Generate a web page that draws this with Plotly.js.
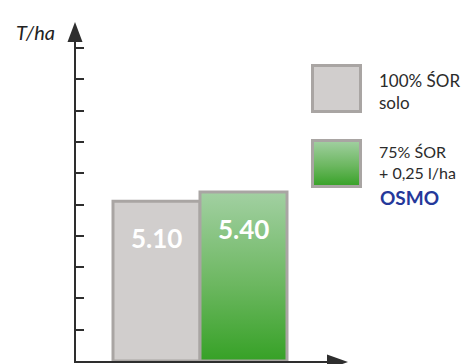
<!DOCTYPE html>
<html>
<head>
<meta charset="utf-8">
<script src="https://cdn.plot.ly/plotly-3.0.1.min.js"></script>
<style>
  html, body { margin: 0; padding: 0; background: #fff; }
  #chart { width: 469px; height: 364px; }
</style>
</head>
<body>
<div id="chart"></div>
<script>
// Yield per hectare for the two treatment variants
const categories = ['100% ŚOR solo', '75% ŚOR + 0,25 l/ha OSMO'];
const yields = [5.10, 5.40];
const yTicks = [1, 2, 3, 4, 5, 6, 7, 8, 9, 10];
const legendLabels = ['100% ŚOR<br>solo', '75% ŚOR<br>+ 0,25 l/ha'];
const productName = 'OSMO';
const unitLabel = 'T/ha';

// Canvas and plot-area geometry (pixels)
const W = 469, H = 364;
const M = { l: 76, r: 138, t: 40, b: 3 };
const plotW = W - M.l - M.r;
const plotH = H - M.t - M.b;
const px = x => (x - M.l) / plotW;          // pixel x -> paper x
const py = y => (H - M.b - y) / plotH;      // pixel y -> paper y

const FONT = 'Lato, "Open Sans", sans-serif';
const GREY_FILL = '#d1cecd';
const BORDER = '#a9a5a3';
const GREEN_MID = '#5fb252';
const AXIS = '#2e2e2e';

const barTrace = {
  type: 'bar',
  x: categories.map((_, i) => i),
  y: yields,
  width: 1,
  hovertext: categories,
  marker: {
    color: [GREY_FILL, GREEN_MID],
    line: { color: BORDER, width: 3 }
  },
  showlegend: false
};

// Value labels inside the top of each bar
const valueNotes = yields.map((v, i) => ({
  x: i, y: v, xref: 'x', yref: 'y',
  yanchor: 'middle', yshift: -37,
  text: '<b>' + v.toFixed(2) + '</b>',
  showarrow: false,
  font: { family: FONT, size: 26, color: '#ffffff' }
}));

// Legend text blocks beside the swatches
const legendCenters = [91.5, 161.5];
const legendSizes = [17, 16];
const legendNotes = legendLabels.map((t, k) => ({
  xref: 'paper', yref: 'paper',
  x: px(377), y: py(legendCenters[k]),
  xanchor: 'left', yanchor: 'middle', align: 'left',
  text: t,
  showarrow: false,
  font: { family: FONT, size: legendSizes[k], color: '#2b2b2b' }
}));
legendNotes.push({
  xref: 'paper', yref: 'paper',
  x: px(378), y: py(197.5),
  xanchor: 'left', yanchor: 'middle',
  text: '<b>' + productName + '</b>',
  showarrow: false,
  font: { family: FONT, size: 19, color: '#25389a' }
});

const unitNote = {
  xref: 'paper', yref: 'paper',
  x: px(14), y: py(32),
  xanchor: 'left', yanchor: 'middle',
  text: '<i>' + unitLabel + '</i>',
  showarrow: false,
  font: { family: FONT, size: 20, color: '#222222' }
};

const shapes = [
  // legend swatches
  { type: 'rect', xref: 'paper', yref: 'paper',
    x0: px(312.5), x1: px(360.5), y0: py(65.5), y1: py(111.5),
    fillcolor: GREY_FILL, line: { color: BORDER, width: 3 } },
  { type: 'rect', xref: 'paper', yref: 'paper',
    x0: px(312.5), x1: px(360.5), y0: py(140.5), y1: py(186.5),
    fillcolor: GREEN_MID, line: { color: BORDER, width: 3 } },
  // axis arrowheads
  { type: 'path', xref: 'paper', yref: 'paper', layer: 'above',
    path: `M${px(67.5)},${py(42)} L${px(75)},${py(22)} L${px(82.5)},${py(42)} Z`,
    fillcolor: AXIS, line: { width: 0 } },
  { type: 'path', xref: 'paper', yref: 'paper', layer: 'above',
    path: `M${px(327)},${py(354.5)} L${px(348)},${py(362)} L${px(327)},${py(369.5)} Z`,
    fillcolor: AXIS, line: { width: 0 } }
];

const layout = {
  width: W, height: H,
  margin: M,
  paper_bgcolor: '#ffffff',
  plot_bgcolor: 'rgba(0,0,0,0)',
  showlegend: false,
  xaxis: {
    range: [-(156.5 - M.l) / 87, 1 + (M.l + plotW - 243.5) / 87],
    showline: true, linecolor: AXIS, linewidth: 2,
    showgrid: false, zeroline: false,
    showticklabels: false, ticks: '', fixedrange: true
  },
  yaxis: {
    range: [0, plotH / 31.3],
    showline: true, linecolor: AXIS, linewidth: 2,
    showgrid: false, zeroline: false,
    tickmode: 'array', tickvals: yTicks,
    ticks: 'inside', ticklen: 8, tickwidth: 2, tickcolor: AXIS,
    showticklabels: false, fixedrange: true
  },
  shapes: shapes,
  annotations: [unitNote].concat(valueNotes, legendNotes)
};

// Vertical green gradient used by the OSMO bar and its legend swatch
function applyGradient(gd) {
  const svgNS = 'http://www.w3.org/2000/svg';
  const defs = gd.querySelector('svg.main-svg defs');
  if (!defs) return;
  const grad = document.createElementNS(svgNS, 'linearGradient');
  grad.setAttribute('id', 'osmoGreen');
  grad.setAttribute('x1', '0'); grad.setAttribute('y1', '0');
  grad.setAttribute('x2', '0'); grad.setAttribute('y2', '1');
  [['0', '#a2d0a2'], ['0.55', '#6cb760'], ['1', '#36a126']].forEach(([o, c]) => {
    const s = document.createElementNS(svgNS, 'stop');
    s.setAttribute('offset', o);
    s.setAttribute('stop-color', c);
    grad.appendChild(s);
  });
  defs.appendChild(grad);

  const barPaths = gd.querySelectorAll('.barlayer .point path');
  if (barPaths[1]) barPaths[1].style.fill = 'url(#osmoGreen)';
  gd.querySelectorAll('.shapelayer path').forEach(p => {
    if (p.getAttribute('data-index') === '1') p.style.fill = 'url(#osmoGreen)';
  });
}

Plotly.newPlot('chart', [barTrace], layout, { displayModeBar: false, staticPlot: true })
  .then(applyGradient);
</script>
</body>
</html>
